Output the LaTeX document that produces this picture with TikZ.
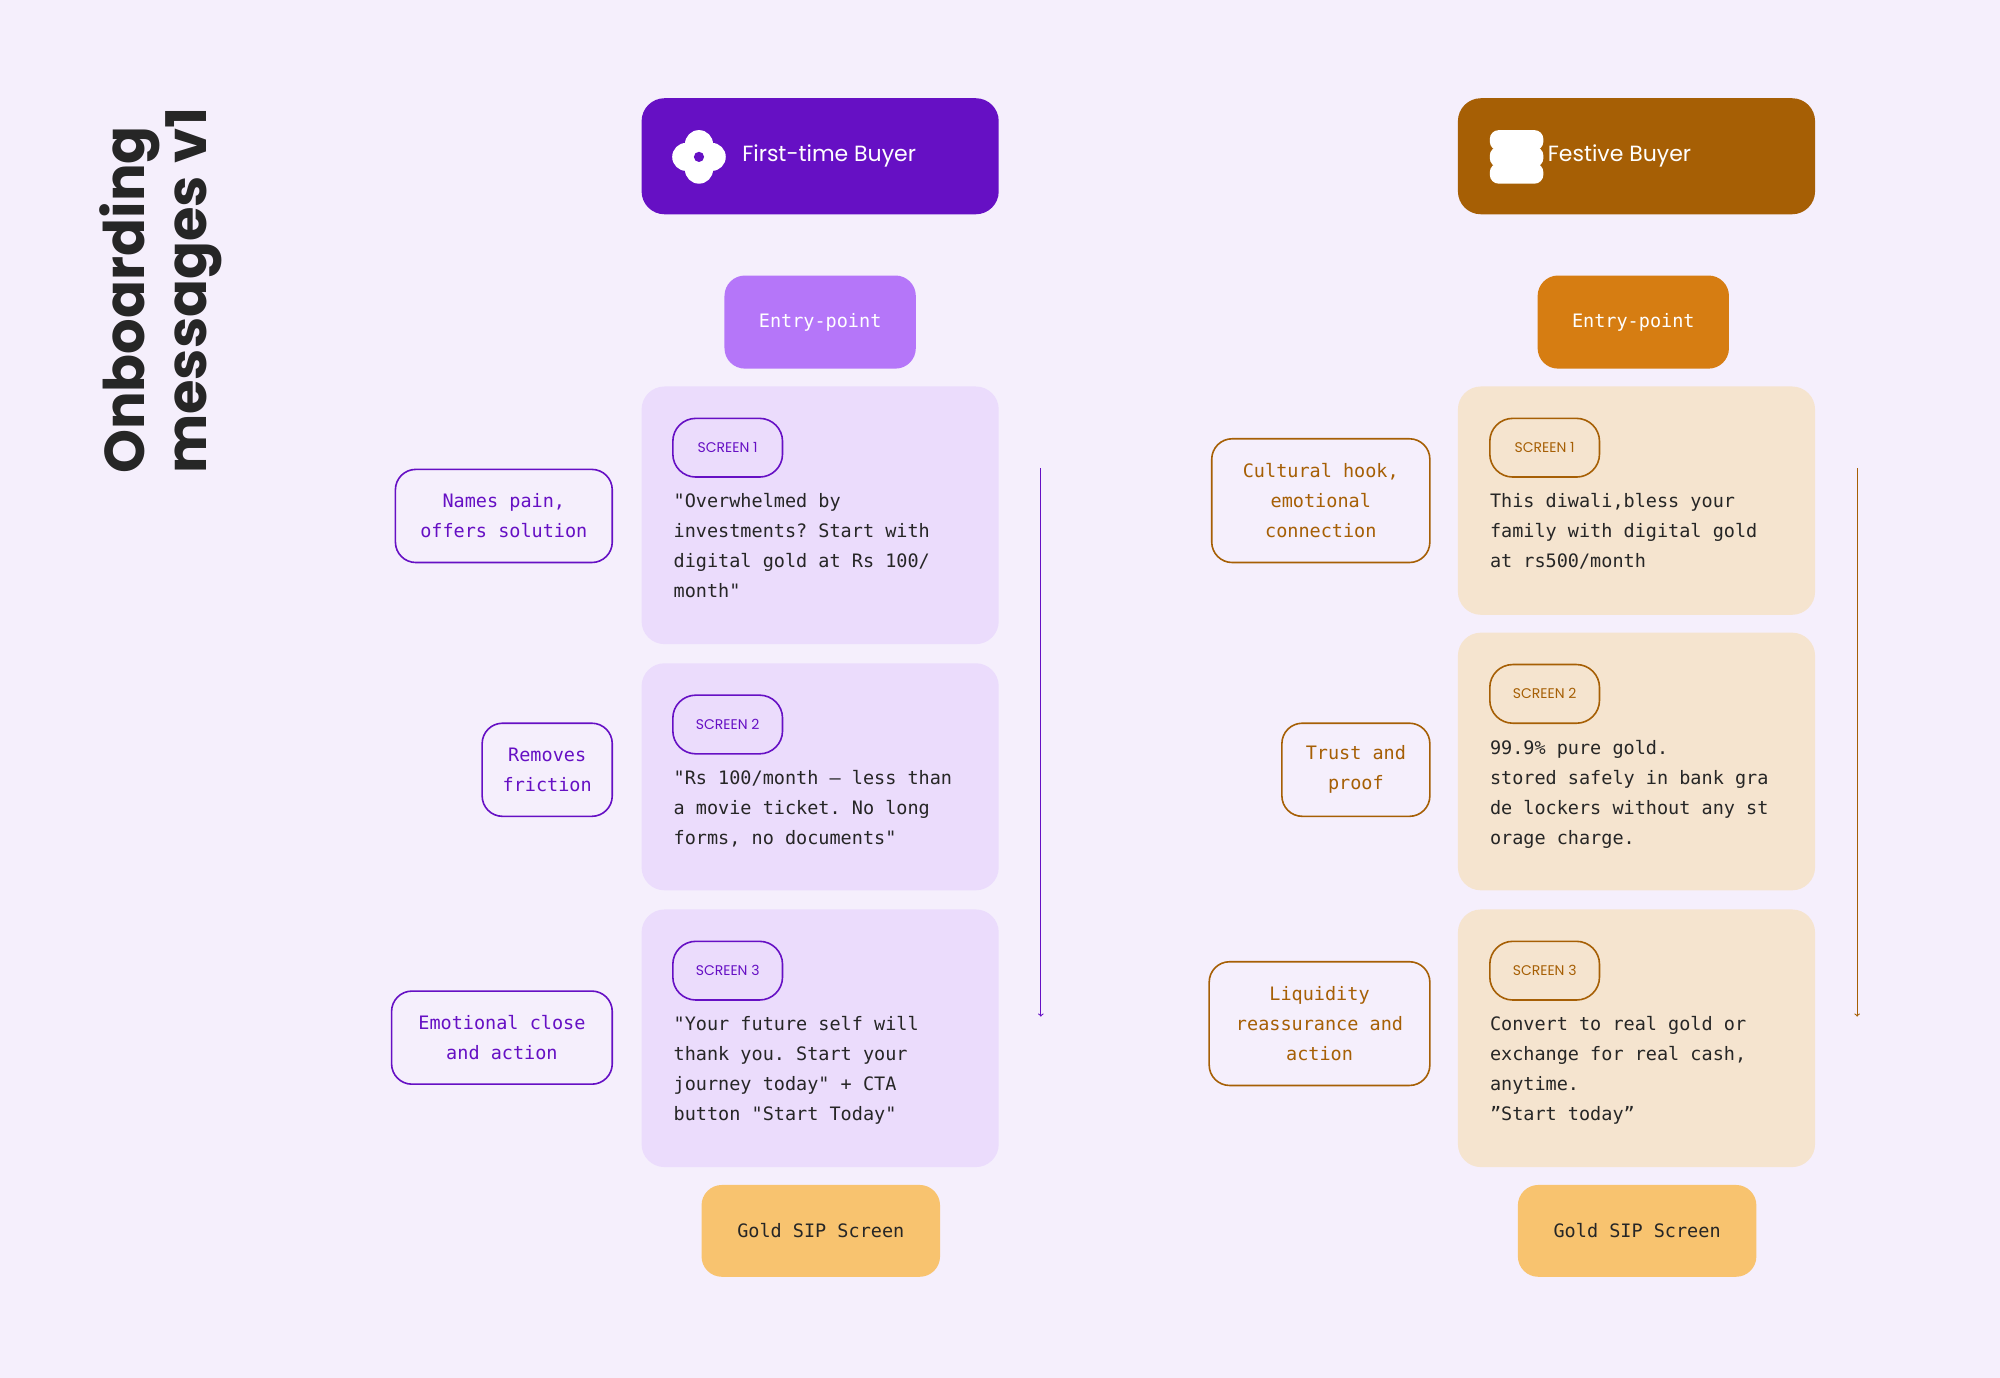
\documentclass[tikz,border=0pt]{standalone}
\usepackage{fontspec}
\setmainfont{Poppins}
\setmonofont{DejaVu Sans Mono}
\usepackage{tikz}
\def\u{1.2755pt}
\definecolor{pagebg}{HTML}{F5EFFC}
\definecolor{plum}{HTML}{6610C4}
\definecolor{plumentry}{HTML}{B576F9}
\definecolor{plumcard}{HTML}{EBDCFC}
\definecolor{amber}{HTML}{A65F05}
\definecolor{amberentry}{HTML}{D67D12}
\definecolor{ambercard}{HTML}{F5E4CF}
\definecolor{goldsip}{HTML}{F8C36F}
\definecolor{inktext}{HTML}{262626}
\begin{document}
\begin{tikzpicture}
[x=1.2755pt,y=-1.2755pt,
  header/.style={rectangle,rounded corners=18*\u,minimum width=280*\u,minimum height=91*\u,text=white,font=\fontsize{22}{26}\selectfont},
  entry/.style={rectangle,rounded corners=16*\u,minimum width=150*\u,minimum height=73*\u,text=white,font=\ttfamily\fontsize{18.5}{22}\selectfont},
  card/.style={rectangle,rounded corners=18*\u,minimum width=280*\u},
  tag/.style={rectangle,rounded corners=18*\u,draw,line width=1.6pt,minimum width=86*\u,minimum height=46*\u,font=\fontsize{14}{16}\selectfont},
  cardtext/.style={anchor=north west,inner sep=0pt,align=left,text=inktext,font=\ttfamily\fontsize{18.5}{30}\selectfont},
  note/.style={rectangle,rounded corners=16*\u,draw,line width=1.6pt,align=center,font=\ttfamily\fontsize{18.5}{30}\selectfont},
  sip/.style={rectangle,rounded corners=16*\u,fill=goldsip,minimum width=187*\u,minimum height=72*\u,text=inktext,font=\ttfamily\fontsize{18.5}{22}\selectfont},
  flow/.style={->,line width=1.1pt}]
% page
\fill[pagebg] (0,0) rectangle (1568,1080);
\useasboundingbox (0,0) rectangle (1568,1080);
% title
\node (title) at (126,228) [rotate=90,align=left,text=inktext,font=\fontsize{56}{62}\selectfont\bfseries] {Onboarding\\messages v1};
% first-time buyer column
\node (ftb) at (643,122.5) [header,fill=plum] {\hspace*{56pt}First-time Buyer\hspace*{38pt}};
\fill[white] (538,123) circle (11) (558,123) circle (11) (548,113) circle (11) (548,133) circle (11) (548,123) circle (12);
\fill[plum] (548,123) circle (4);
\node (ftbentry) at (643,252.5) [entry,fill=plumentry] {Entry-point};
\node (ftbcard1) at (643,404) [card,fill=plumcard,minimum height=202*\u] {};
\node (ftbcard2) at (643,609) [card,fill=plumcard,minimum height=178*\u] {};
\node (ftbcard3) at (643,814) [card,fill=plumcard,minimum height=202*\u] {};
\node (ftbtag1) at (570.5,351) [tag,draw=plum,text=plum] {SCREEN 1};
\node (ftbtag2) at (570.5,568) [tag,draw=plum,text=plum] {SCREEN 2};
\node (ftbtag3) at (570.5,761) [tag,draw=plum,text=plum] {SCREEN 3};
\node (ftbtext1) at (528,387) [cardtext] {"Overwhelmed by\\investments? Start with\\digital gold at Rs 100/\\month"};
\node (ftbtext2) at (528,604) [cardtext] {"Rs 100/month — less than\\a movie ticket. No long\\forms, no documents"};
\node (ftbtext3) at (528,797) [cardtext] {"Your future self will\\thank you. Start your\\journey today" + CTA\\button "Start Today"};
\node (ftbnote1) at (395,404.5) [note,draw=plum,text=plum,minimum width=170*\u,minimum height=73*\u] {Names pain,\\offers solution};
\node (ftbnote2) at (429,603.5) [note,draw=plum,text=plum,minimum width=102*\u,minimum height=73*\u] {Removes\\friction};
\node (ftbnote3) at (393.5,813.5) [note,draw=plum,text=plum,minimum width=173*\u,minimum height=73*\u] {Emotional close\\and action};
\node (ftbsip) at (643.5,965) [sip] {Gold SIP Screen};
\coordinate (ftbtop) at (816,367);
\coordinate (ftbend) at (816,797);
\draw[flow,plum] (ftbtop) -- (ftbend);
% festive buyer column
\node (fb) at (1283,122.5) [header,fill=amber] {\hspace*{56pt}Festive Buyer\hspace*{90pt}};
\foreach \yy in {110,123,136}
  \fill[white,rounded corners=7*\u] (1168,\yy-8) rectangle (1210,\yy+8);
\node (fbentry) at (1280.5,252.5) [entry,fill=amberentry] {Entry-point};
\node (fbcard1) at (1283,392.5) [card,fill=ambercard,minimum height=179*\u] {};
\node (fbcard2) at (1283,597) [card,fill=ambercard,minimum height=202*\u] {};
\node (fbcard3) at (1283,814) [card,fill=ambercard,minimum height=202*\u] {};
\node (fbtag1) at (1211,351) [tag,draw=amber,text=amber] {SCREEN 1};
\node (fbtag2) at (1211,544) [tag,draw=amber,text=amber] {SCREEN 2};
\node (fbtag3) at (1211,761) [tag,draw=amber,text=amber] {SCREEN 3};
\node (fbtext1) at (1168,387) [cardtext] {This diwali,bless your\\family with digital gold\\at rs500/month};
\node (fbtext2) at (1168,580) [cardtext] {99.9\% pure gold.\\stored safely in bank gra\\de lockers without any st\\orage charge.};
\node (fbtext3) at (1168,797) [cardtext] {Convert to real gold or\\exchange for real cash,\\anytime.\\”Start today”};
\node (fbnote1) at (1035.5,392.5) [note,draw=amber,text=amber,minimum width=171*\u,minimum height=97*\u] {Cultural hook,\\emotional\\connection};
\node (fbnote2) at (1063,603.5) [note,draw=amber,text=amber,minimum width=116*\u,minimum height=73*\u] {Trust and\\proof};
\node (fbnote3) at (1034.5,802.5) [note,draw=amber,text=amber,minimum width=173*\u,minimum height=97*\u] {Liquidity\\reassurance and\\action};
\node (fbsip) at (1283.5,965) [sip] {Gold SIP Screen};
\coordinate (fbtop) at (1456,367);
\coordinate (fbend) at (1456,797);
\draw[flow,amber] (fbtop) -- (fbend);
\end{tikzpicture}
\end{document}
